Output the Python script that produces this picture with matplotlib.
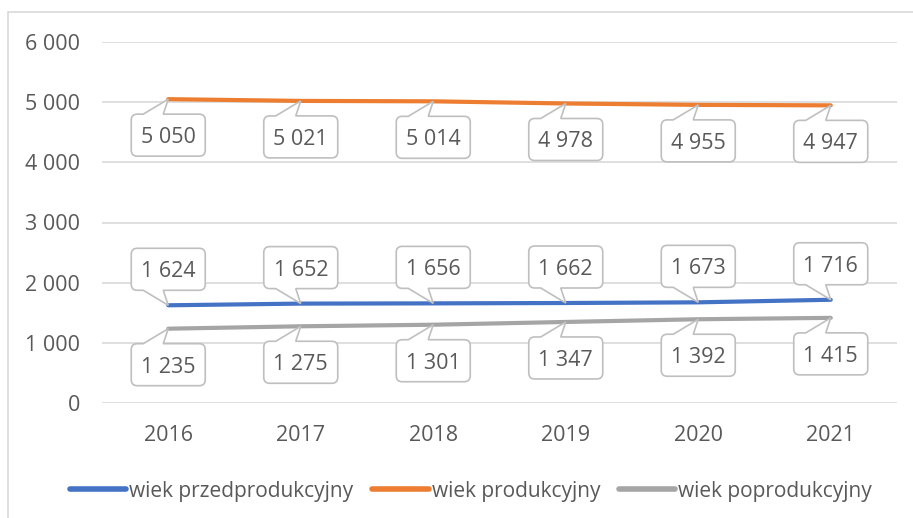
import matplotlib
matplotlib.use("Agg")
import matplotlib.pyplot as plt
from matplotlib.path import Path
from matplotlib.patches import PathPatch, Rectangle
from matplotlib.transforms import Affine2D, ScaledTranslation
from matplotlib.ticker import FuncFormatter

years = ["2016", "2017", "2018", "2019", "2020", "2021"]
przed = [1624, 1652, 1656, 1662, 1673, 1716]
prod = [5050, 5021, 5014, 4978, 4955, 4947]
poprod = [1235, 1275, 1301, 1347, 1392, 1415]
series_names = ["wiek przedprodukcyjny", "wiek produkcyjny", "wiek poprodukcyjny"]
colors = ["#4472C4", "#ED7D31", "#A5A5A5"]
label_side = ["above", "below", "below"]

TXT = "#595959"
GRID = "#D9D9D9"
plt.rcParams["font.family"] = ["Open Sans", "DejaVu Sans"]

def fmt(v):
    return f"{int(round(v)):,}".replace(",", " ")

fig = plt.figure(figsize=(9.13, 5.18), dpi=100)
ax = fig.add_axes([102/913, 1-403/518, (897-102)/913, (403-42)/518])

x = list(range(len(years)))
all_series = [przed, prod, poprod]
for vals, c, name in zip(all_series, colors, series_names):
    ax.plot(x, vals, color=c, lw=3.0, solid_capstyle="round", label=name, zorder=3)

ax.set_xlim(-0.5, len(years) - 0.5)
ax.set_ylim(0, 6000)
ax.set_yticks(range(0, 6001, 1000))
ax.yaxis.set_major_formatter(FuncFormatter(lambda v, p: fmt(v)))
ax.set_xticks(x)
ax.set_xticklabels(years)
ax.tick_params(axis="both", length=0, colors=TXT, labelsize=15.5)
ax.tick_params(axis="y", pad=16)
ax.tick_params(axis="x", pad=16)
ax.grid(axis="y", color=GRID, lw=1.2)
ax.set_axisbelow(True)
for s in ax.spines.values():
    s.set_visible(False)

# callout geometry in pixels, relative to the point (y up), for box below
L, R, T, B, r = -37, 37, -15, -57, 6
w1, w2 = -25, -5

def callout_path(flip):
    s = -1 if flip else 1
    pts = [
        ((L + r, T), Path.MOVETO),
        ((w1, T), Path.LINETO),
        ((0, 0), Path.LINETO),
        ((w2, T), Path.LINETO),
        ((R - r, T), Path.LINETO),
        ((R, T), Path.CURVE3), ((R, T - r), Path.CURVE3),
        ((R, B + r), Path.LINETO),
        ((R, B), Path.CURVE3), ((R - r, B), Path.CURVE3),
        ((L + r, B), Path.LINETO),
        ((L, B), Path.CURVE3), ((L, B + r), Path.CURVE3),
        ((L, T - r), Path.LINETO),
        ((L, T), Path.CURVE3), ((L + r, T), Path.CURVE3),
        ((L + r, T), Path.CLOSEPOLY),
    ]
    verts = [(px, s * py) for (px, py), _ in pts]
    codes = [c for _, c in pts]
    return Path(verts, codes)

for vals, side in zip(all_series, label_side):
    flip = side == "above"
    path = callout_path(flip)
    for xi, v in zip(x, vals):
        tr = Affine2D().scale(1/100) + fig.dpi_scale_trans + ScaledTranslation(xi, v, ax.transData)
        patch = PathPatch(path, transform=tr, facecolor="white", edgecolor="#BFBFBF", lw=1.2, zorder=4, clip_on=False)
        ax.add_patch(patch)
        cy = (T + B) / 2 * (-1 if flip else 1)
        ax.text(0, cy, fmt(v), transform=tr, ha="center", va="center_baseline",
                fontsize=15.5, color=TXT, zorder=5, clip_on=False)

leg = fig.legend(loc="center", bbox_to_anchor=(471/913, 1 - 491/518), ncol=3, frameon=False,
                 fontsize=15, labelcolor=TXT, handlelength=2.7, handletextpad=0.15,
                 columnspacing=0.9)
for h in leg.legend_handles:
    h.set_linewidth(4)
    h.set_solid_capstyle("round")

fig.patches.append(Rectangle((8/913, -0.2), 1.2, 0.2 + 1 - 12/518, transform=fig.transFigure,
                             fill=False, edgecolor=GRID, lw=1.2))

fig.savefig("out.png", dpi=100)
